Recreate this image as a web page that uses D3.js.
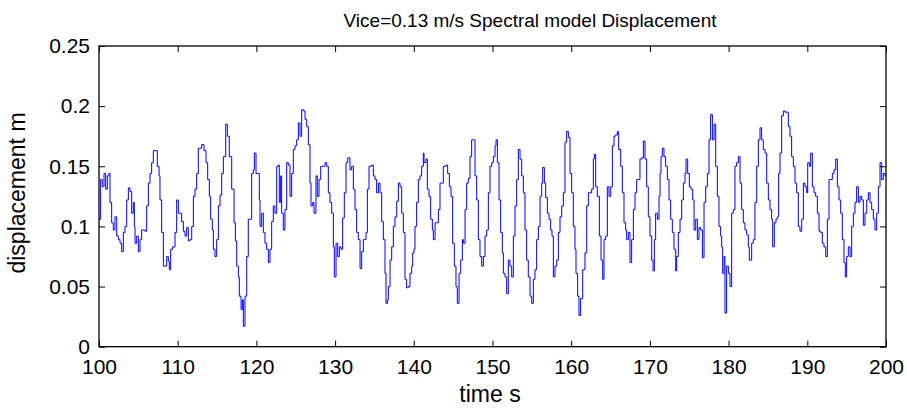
<!DOCTYPE html>
<html>
<head>
<meta charset="utf-8">
<script src="https://cdn.jsdelivr.net/npm/d3@7"></script>
<style>
  body { margin: 0; background: #fff; }
  text { font-family: "Liberation Sans", Arial, Helvetica, sans-serif; fill: #000; }
</style>
</head>
<body>
<div id="chart"></div>
<script>
// displacement trace, [time s, displacement m]
var trace = [
  [100.0,0.106],[100.21,0.139],[100.42,0.133],[100.64,0.144],[100.85,0.131],[101.06,0.142],[101.27,0.144],[101.4,0.120],[101.61,0.103],[101.82,0.097],
  [102.03,0.108],[102.25,0.092],[102.46,0.089],[102.67,0.086],[102.88,0.079],[103.09,0.095],[103.3,0.100],[103.52,0.122],[103.73,0.132],[103.94,0.129],
  [104.15,0.111],[104.36,0.120],[104.49,0.100],[104.58,0.086],[104.79,0.092],[105.0,0.079],[105.21,0.089],[105.42,0.097],[105.85,0.096],[106.06,0.117],
  [106.27,0.136],[106.48,0.144],[106.69,0.153],[106.9,0.163],[107.24,0.163],[107.41,0.150],[107.63,0.142],[107.75,0.122],[107.96,0.095],[108.18,0.067],
  [108.39,0.067],[108.6,0.075],[108.81,0.071],[108.94,0.064],[109.11,0.081],[109.36,0.083],[109.66,0.095],[109.87,0.122],[110.08,0.111],[110.5,0.104],
  [110.72,0.096],[110.93,0.092],[111.14,0.099],[111.35,0.088],[111.56,0.089],[111.78,0.100],[111.99,0.125],[112.2,0.131],[112.41,0.144],[112.62,0.165],
  [113.05,0.168],[113.34,0.163],[113.6,0.153],[113.81,0.139],[114.02,0.125],[114.19,0.106],[114.4,0.097],[114.53,0.081],[114.74,0.075],[114.95,0.089],
  [115.17,0.117],[115.38,0.126],[115.59,0.144],[115.8,0.158],[116.1,0.185],[116.31,0.175],[116.56,0.158],[116.86,0.131],[117.16,0.103],[117.33,0.088],
  [117.5,0.067],[117.71,0.058],[117.83,0.042],[118.05,0.031],[118.22,0.039],[118.34,0.017],[118.55,0.042],[118.77,0.075],
  [118.97,0.106],[119.19,0.106],[119.4,0.144],[119.61,0.147],[119.74,0.161],[119.95,0.144],[120.16,0.144],[120.37,0.122],[120.46,0.100],[120.67,0.111],
  [120.88,0.095],[121.09,0.086],[121.3,0.081],[121.52,0.070],[121.73,0.081],[121.94,0.104],[122.15,0.117],[122.36,0.111],[122.58,0.150],[122.79,0.151],
  [122.91,0.120],[123.08,0.142],[123.21,0.111],[123.42,0.097],[123.63,0.114],[123.85,0.153],[124.06,0.151],[124.27,0.125],[124.48,0.144],[124.69,0.164],
  [124.91,0.167],[125.12,0.172],[125.33,0.186],[125.54,0.175],[125.75,0.197],[125.96,0.196],[126.18,0.189],[126.39,0.183],[126.6,0.168],[126.81,0.136],
  [126.94,0.117],[127.15,0.120],[127.32,0.111],[127.57,0.142],[127.74,0.125],[127.96,0.139],[128.17,0.150],[128.51,0.150],[128.72,0.153],[128.93,0.150],
  [129.14,0.128],[129.35,0.120],[129.57,0.111],[129.78,0.083],[129.9,0.058],[130.12,0.086],[130.33,0.075],[130.54,0.083],[130.75,0.081],[130.96,0.107],
  [131.17,0.128],[131.39,0.153],[131.6,0.157],[131.89,0.147],[132.11,0.150],[132.32,0.131],[132.53,0.114],[132.74,0.095],[132.95,0.089],[133.17,0.065],
  [133.38,0.079],[133.59,0.089],[133.93,0.095],[134.1,0.131],[134.31,0.150],[134.65,0.151],[134.86,0.142],[135.07,0.139],[135.28,0.128],[135.5,0.136],
  [135.71,0.128],[135.92,0.104],[136.13,0.089],[136.34,0.061],[136.47,0.036],[136.64,0.039],[136.77,0.050],[136.98,0.072],[137.19,0.083],[137.4,0.100],
  [137.61,0.108],[137.83,0.121],[138.04,0.136],[138.25,0.133],
  [138.46,0.111],[138.67,0.095],[138.88,0.056],[139.09,0.049],[139.31,0.050],[139.52,0.061],[139.73,0.067],[139.86,0.078],[140.03,0.081],[140.15,0.100],
  [140.36,0.120],[140.58,0.139],[140.79,0.142],[141.0,0.150],[141.21,0.161],[141.3,0.153],[141.55,0.156],[141.72,0.131],[141.93,0.125],[142.14,0.106],
  [142.36,0.097],[142.48,0.089],[142.7,0.103],[142.91,0.103],[143.12,0.114],[143.33,0.136],[143.54,0.136],[143.75,0.150],[144.09,0.151],[144.3,0.144],
  [144.52,0.133],[144.73,0.125],[144.94,0.086],[145.15,0.067],[145.36,0.050],[145.53,0.036],[145.75,0.061],[145.96,0.072],[146.17,0.089],[146.3,0.086],
  [146.51,0.114],[146.72,0.136],[146.93,0.140],[147.14,0.158],[147.35,0.172],[147.57,0.172],[147.78,0.142],[147.99,0.122],[148.2,0.089],[148.41,0.075],
  [148.63,0.067],[148.84,0.075],[149.05,0.092],[149.26,0.097],[149.47,0.128],[149.68,0.150],[149.9,0.153],[150.11,0.158],[150.32,0.167],[150.45,0.172],
  [150.62,0.153],[150.83,0.122],[151.04,0.095],[151.25,0.078],[151.38,0.061],[151.59,0.058],[151.8,0.044],[152.01,0.072],[152.22,0.067],[152.44,0.058],
  [152.65,0.092],[152.86,0.117],[153.07,0.139],[153.28,0.164],[153.5,0.156],[153.71,0.142],[153.92,0.128],[154.13,0.097],[154.34,0.072],[154.55,0.058],
  [154.77,0.042],[154.98,0.036],[155.19,0.056],[155.4,0.064],[155.61,0.089],[155.83,0.100],[156.04,0.125],[156.25,0.136],[156.38,0.149],[156.59,0.136],
  [156.76,0.124],[156.97,0.111],[157.18,0.106],[157.39,0.097],[157.56,0.092],[157.73,0.058],[157.94,0.067],[158.16,0.072],[158.37,0.095],[158.58,0.108],
  [158.79,0.117],[159.0,0.128],[159.21,0.170],[159.42,0.179],[159.64,0.174],[159.85,0.144],[160.06,0.128],[160.27,0.100],[160.48,0.081],[160.61,0.061],
  [160.82,0.042],[160.99,0.026],[161.2,0.040],[161.46,0.064],[161.75,0.078],[161.97,0.117],[162.18,0.128],[162.39,0.128],[162.6,0.131],[162.81,0.156],
  [162.94,0.160],[163.11,0.133],[163.32,0.125],[163.58,0.092],[163.79,0.072],[164.0,0.056],[164.17,0.089],[164.38,0.092],[164.59,0.133],[164.8,0.125],
  [165.02,0.133],[165.23,0.167],[165.44,0.175],[165.65,0.176],[165.86,0.179],[166.03,0.164],[166.29,0.150],[166.5,0.128],[166.71,0.103],[166.92,0.097],
  [167.05,0.089],[167.26,0.095],[167.47,0.070],[167.68,0.089],[167.9,0.114],[168.11,0.128],[168.32,0.139],[168.53,0.139],[168.74,0.156],[168.96,0.157],
  [169.17,0.171],[169.38,0.156],[169.59,0.133],[169.8,0.108],[170.01,0.092],[170.23,0.072],[170.4,0.063],[170.57,0.089],[170.73,0.111],[170.95,0.106],
  [171.16,0.125],[171.29,0.144],[171.41,0.158],[171.58,0.165],[171.79,0.158],[172.0,0.150],[172.22,0.139],[172.43,0.122],[172.64,0.106],[172.85,0.095],
  [173.06,0.081],[173.28,0.063],[173.4,0.075],[173.61,0.095],[173.83,0.106],[174.04,0.122],[174.25,0.136],[174.46,0.144],[174.59,0.156],[174.8,0.144],
  [175.01,0.133],[175.22,0.131],[175.44,0.122],[175.61,0.097],[175.82,0.106],[176.03,0.089],[176.24,0.099],[176.45,0.097],[176.67,0.074],[176.88,0.120],
  [177.09,0.133],[177.3,0.144],[177.51,0.172],[177.72,0.193],[177.94,0.172],[178.15,0.185],[178.36,0.150],[178.57,0.125],[178.78,0.100],[178.99,0.092],
  [179.12,0.083],[179.25,0.061],[179.42,0.075],[179.54,0.028],[179.75,0.067],[179.97,0.061],[180.18,0.050],[180.39,0.111],[180.6,0.114],[180.81,0.150],
  [181.02,0.153],[181.24,0.158],[181.45,0.136],[181.66,0.114],[181.87,0.103],[182.08,0.097],[182.3,0.093],[182.51,0.083],[182.63,0.072],[182.93,0.086],
  [183.14,0.089],[183.35,0.120],[183.57,0.150],[183.78,0.172],[183.99,0.182],[184.2,0.172],[184.41,0.164],[184.63,0.161],[184.84,0.136],[185.05,0.122],
  [185.26,0.114],[185.47,0.106],[185.6,0.083],[185.81,0.103],[186.02,0.106],[186.19,0.108],[186.36,0.144],[186.53,0.161],[186.74,0.192],[186.96,0.196],
  [187.17,0.195],[187.38,0.195],[187.59,0.183],[187.8,0.175],[188.01,0.158],[188.23,0.150],[188.44,0.136],[188.65,0.128],[188.86,0.100],[189.07,0.096],
  [189.29,0.106],[189.5,0.136],[189.71,0.133],[189.92,0.128],[190.05,0.153],[190.26,0.150],[190.43,0.161],[190.64,0.133],[190.85,0.128],[191.06,0.125],
  [191.28,0.111],[191.49,0.096],[191.7,0.095],[191.91,0.086],[192.12,0.083],[192.34,0.075],[192.55,0.106],[192.76,0.139],[192.97,0.139],[193.18,0.144],
  [193.39,0.147],[193.61,0.156],[193.82,0.133],[194.03,0.122],[194.24,0.111],[194.45,0.089],[194.66,0.070],[194.83,0.058],[195.0,0.075],[195.21,0.083],
  [195.43,0.075],[195.64,0.100],[195.85,0.111],[196.06,0.120],[196.27,0.133],[196.49,0.120],[196.7,0.125],[196.91,0.122],[197.12,0.101],[197.33,0.111],
  [197.55,0.122],[197.76,0.128],[197.97,0.120],[198.18,0.114],[198.39,0.106],[198.6,0.097],[198.82,0.111],[199.03,0.133],[199.24,0.153],[199.45,0.139],
  [199.66,0.144],[199.88,0.142],[200.0,0.142]
];

var xTicks = [100, 110, 120, 130, 140, 150, 160, 170, 180, 190, 200];
var yTicks = [0, 0.05, 0.1, 0.15, 0.2, 0.25];
var titleText = 'Vice=0.13 m/s Spectral model Displacement';
var xLabel = 'time s';
var yLabel = 'displacement m';

var width = 907;
var height = 408;
var margin = { top: 46, right: 21, bottom: 61.3, left: 99 };

var svg = d3.select('#chart')
  .append('svg')
  .attr('width', width)
  .attr('height', height);

svg.append('rect')
  .attr('width', width)
  .attr('height', height)
  .attr('fill', '#fff');

var x = d3.scaleLinear()
  .domain([100, 200])
  .range([margin.left, width - margin.right]);

var y = d3.scaleLinear()
  .domain([0, 0.25])
  .range([height - margin.bottom, margin.top]);

svg.append('clipPath')
  .attr('id', 'plotClip')
  .append('rect')
  .attr('x', x(100))
  .attr('y', y(0.25))
  .attr('width', x(200) - x(100))
  .attr('height', y(0) - y(0.25));

var line = d3.line()
  .x(function (d) { return x(d[0]); })
  .y(function (d) { return y(d[1]); })
  .curve(d3.curveStepAfter);

svg.append('path')
  .datum(trace)
  .attr('clip-path', 'url(#plotClip)')
  .attr('fill', 'none')
  .attr('stroke', '#0000ff')
  .attr('stroke-width', 1)
  .attr('d', line);

// axes: ticks point inward, labels only bottom/left
function styleAxis (g) {
  g.select('.domain').remove();
  g.selectAll('line').attr('stroke', '#000').attr('stroke-width', 1);
  g.selectAll('text').style('font-size', '21px').attr('fill', '#000');
}

svg.append('g')
  .attr('transform', 'translate(0,' + y(0) + ')')
  .call(d3.axisBottom(x).tickValues(xTicks).tickFormat(d3.format('d')).tickSize(-6).tickPadding(12))
  .call(styleAxis);

svg.append('g')
  .attr('transform', 'translate(0,' + y(0.25) + ')')
  .call(d3.axisTop(x).tickValues(xTicks).tickFormat('').tickSize(-6))
  .call(styleAxis);

svg.append('g')
  .attr('transform', 'translate(' + x(100) + ',0)')
  .call(d3.axisLeft(y).tickValues(yTicks).tickFormat(function (d) { return d3.format('')(+d.toFixed(2)); }).tickSize(-6).tickPadding(9))
  .call(styleAxis);

svg.append('g')
  .attr('transform', 'translate(' + x(200) + ',0)')
  .call(d3.axisRight(y).tickValues(yTicks).tickFormat('').tickSize(-6))
  .call(styleAxis);

svg.append('rect')
  .attr('x', x(100))
  .attr('y', y(0.25))
  .attr('width', x(200) - x(100))
  .attr('height', y(0) - y(0.25))
  .attr('fill', 'none')
  .attr('stroke', '#000')
  .attr('stroke-width', 1.3);

svg.append('text')
  .attr('x', 530)
  .attr('y', 27)
  .attr('text-anchor', 'middle')
  .style('font-size', '19px')
  .text(titleText);

svg.append('text')
  .attr('x', 490)
  .attr('y', 402)
  .attr('text-anchor', 'middle')
  .style('font-size', '23px')
  .text(xLabel);

svg.append('text')
  .attr('transform', 'translate(25,193) rotate(-90)')
  .attr('text-anchor', 'middle')
  .style('font-size', '23px')
  .text(yLabel);
</script>
</body>
</html>
